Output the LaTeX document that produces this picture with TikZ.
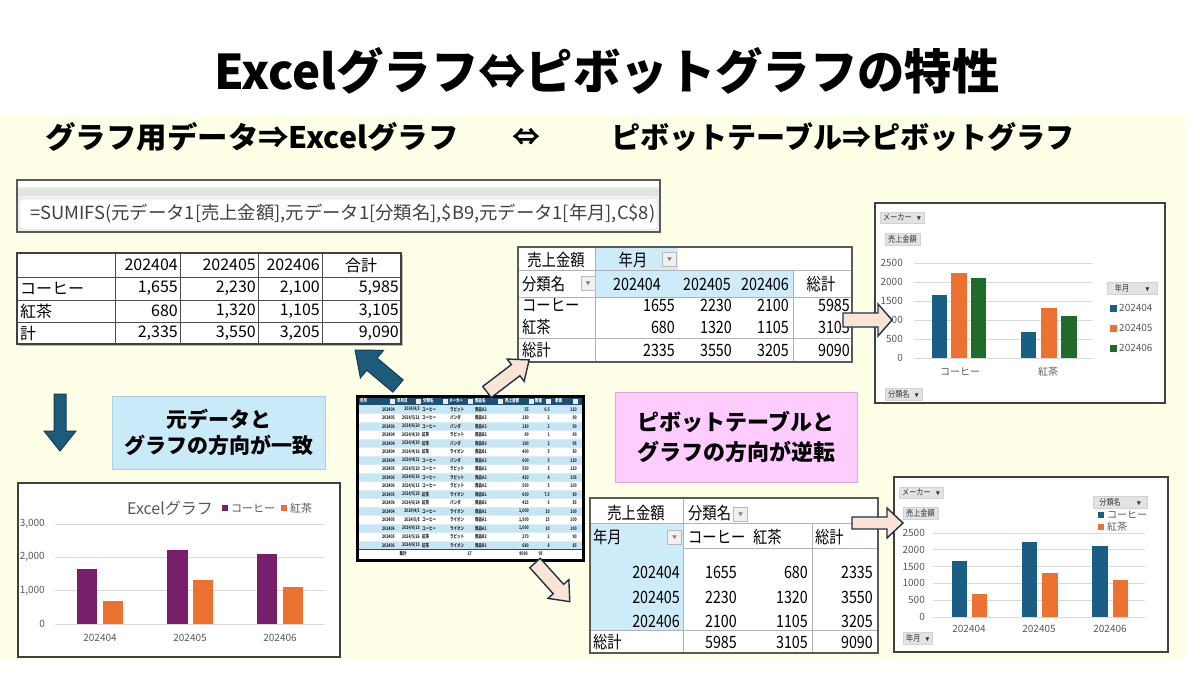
\documentclass[tikz,border=0pt]{standalone}
\usepackage{fontspec}
\setmainfont{Noto Sans CJK JP}
\newfontfamily\condf{Noto Sans CJK JP}[FakeStretch=0.84]
\newfontfamily\tinyf{Noto Sans CJK JP}[FakeStretch=0.7]
\usepackage{graphicx}
\usetikzlibrary{calc}
\newcommand\myfs[1]{\fontsize{#1}{#1}\selectfont}
\definecolor{bgy}{HTML}{FFFFE8}
\definecolor{pvblue}{HTML}{CDEBF8}
\definecolor{boxblue}{HTML}{C9EAF8}
\definecolor{boxbedge}{HTML}{A9CFE0}
\definecolor{boxpink}{HTML}{FFCCFF}
\definecolor{boxpedge}{HTML}{D9A9D9}
\definecolor{peach}{HTML}{FBE3D6}
\definecolor{peachedge}{HTML}{1E3446}
\definecolor{darr}{HTML}{1D5B7B}
\definecolor{darredge}{HTML}{123C52}
\definecolor{cblue}{HTML}{1A5E84}
\definecolor{corange}{HTML}{EC7232}
\definecolor{cgreen}{HTML}{1E6B2B}
\definecolor{cpurple}{HTML}{771F6B}
\definecolor{tblhead}{HTML}{1D4F73}
\definecolor{stripe}{HTML}{C7E6F5}
\definecolor{gridc}{HTML}{D9D9D9}
\definecolor{axtext}{HTML}{595959}
\definecolor{fgray}{HTML}{404040}
% block arrow: x, y, angle, length, shaft half, head half, head length, style
\newcommand\blkarrow[8]{\begin{scope}[shift={(#1,#2)},rotate=#3]
\draw[#8] (0,-#5)--({#4-#7},-#5)--({#4-#7},-#6)--(#4,0)--({#4-#7},#6)--({#4-#7},#5)--(0,#5)--cycle;
\end{scope}}
\newcommand\cbar[6]{\fill[#6] (#1,#3) rectangle (#2,{#3-#5*#4});}
\newcommand\drow[9]{%
 \pgfmathsetmacro\myrowy{405+(#1-0.5)*8.5}%
 \node[dt,anchor=east] (r#1a) at (395,\myrowy) {#2};
 \node[dt,anchor=east] (r#1b) at (420,\myrowy) {#3};
 \node[dt,anchor=west] (r#1c) at (422,\myrowy) {#4};
 \node[dt,anchor=west] (r#1d) at (450,\myrowy) {#5};
 \node[dt,anchor=west] (r#1e) at (475,\myrowy) {#6};
 \node[dt,anchor=east] (r#1f) at (529,\myrowy) {#7};
 \node[dt,anchor=east] (r#1g) at (550,\myrowy) {#8};
 \node[dt,anchor=east] (r#1h) at (577,\myrowy) {#9};
}
\begin{document}
\begin{tikzpicture}[x=1pt,y=-1pt,
  every node/.style={inner sep=0pt},
  lt/.style={font=\myfs{16}, text=black},
  pt/.style={font=\condf\myfs{17}, text=black},
  dt/.style={font=\tinyf\myfs{5}\bfseries, text=black!85},
  dh/.style={font=\tinyf\myfs{5}\bfseries, text=white, anchor=west},
  ddbox/.style={draw=gray!55, fill=gray!12, minimum width=14, minimum height=14, font=\myfs{5}, text=gray},
  btn/.style={fill=gray!22, draw=gray!35, font=\condf\myfs{8.5}, text=black!80, inner xsep=3pt, inner ysep=2pt},
  ax/.style={font=\myfs{10}, text=axtext},
  darrow/.style={fill=darr, draw=darredge, line width=1pt, line join=miter},
  parrow/.style={fill=peach, draw=peachedge, line width=1.4pt, line join=miter},
  chartframe/.style={draw=black!75, line width=1.3pt, fill=white}
]
\useasboundingbox (0,0) rectangle (1200,675);
\fill[white] (0,0) rectangle (1200,675);
\fill[bgy] (0,115) rectangle (1185,660);

% ---------- titles ----------
\node (title) at (607,71) {\resizebox*{785pt}{47pt}{\bfseries Excelグラフ⇔ピボットグラフの特性}};
\node (subL) at (252,137) {\resizebox*{413pt}{29pt}{\bfseries グラフ用データ⇒Excelグラフ}};
\node (subM) at (526,137) {\resizebox*{28pt}{17pt}{\bfseries ⇔}};
\node (subR) at (843,137) {\resizebox*{463pt}{29pt}{\bfseries ピボットテーブル⇒ピボットグラフ}};

% ---------- formula bar ----------
\fill[gray!12] (17,180) rectangle (660,232);
\fill[white] (17,180) rectangle (660,187);
\fill[gray!22] (17,188) rectangle (660,196);
\draw[gray!40, fill=white, rounded corners=2pt] (20,199) rectangle (657,229);
\draw[black!65, line width=1.2pt] (17,180) rectangle (660,232);
\node[anchor=west, text=fgray] (ftext) at (30,214) {\resizebox*{625pt}{19pt}{=SUMIFS(元データ1[売上金額],元データ1[分類名],\$B9,元データ1[年月],C\$8)}};

% ---------- left table ----------
\fill[gray!55] (19,255) rectangle (403,346);
\fill[white] (17,253) rectangle (401,344);
\foreach \x in {115,180,258,322} \draw[black!70, line width=0.8pt] (\x,253)--(\x,344);
\foreach \y in {277,300,322} \draw[black!70, line width=0.8pt] (17,\y)--(401,\y);
\draw[black!75, line width=1.4pt] (17,253) rectangle (401,344);
\node[lt,anchor=east] (lh1) at (178,265) {202404};
\node[lt,anchor=east] (lh2) at (256,265) {202405};
\node[lt,anchor=east] (lh3) at (320,265) {202406};
\node[lt] (lh4) at (361,265) {合計};
\node[lt,anchor=west] (lr1) at (20,288.5) {コーヒー};
\node[lt,anchor=east] (l11) at (178,288.5) {1,655};
\node[lt,anchor=east] (l12) at (256,288.5) {2,230};
\node[lt,anchor=east] (l13) at (320,288.5) {2,100};
\node[lt,anchor=east] (l14) at (399,288.5) {5,985};
\node[lt,anchor=west] (lr2) at (20,311) {紅茶};
\node[lt,anchor=east] (l21) at (178,311) {680};
\node[lt,anchor=east] (l22) at (256,311) {1,320};
\node[lt,anchor=east] (l23) at (320,311) {1,105};
\node[lt,anchor=east] (l24) at (399,311) {3,105};
\node[lt,anchor=west] (lr3) at (20,333) {計};
\node[lt,anchor=east] (l31) at (178,333) {2,335};
\node[lt,anchor=east] (l32) at (256,333) {3,550};
\node[lt,anchor=east] (l33) at (320,333) {3,205};
\node[lt,anchor=east] (l34) at (399,333) {9,090};

% ---------- top pivot table ----------
\fill[white] (518,247) rectangle (852,362);
\fill[pvblue] (595,247) rectangle (678,270);
\fill[pvblue] (595,270) rectangle (793,297);
\draw[gray!60] (518,270)--(852,270) (518,297)--(852,297) (518,338)--(852,338) (595,247)--(595,362) (793,270)--(793,362);
\draw[black!65, line width=1.2pt] (518,247) rectangle (852,362);
\node[ddbox] (pdd1) at (669.5,259.5) {▼};
\node[ddbox] (pdd2) at (588,283.5) {▼};
\node[pt] (p11) at (556,260) {売上金額};
\node[pt] (p12) at (633,260) {年月};
\node[pt,anchor=west] (p21) at (522,284) {分類名};
\node[pt] (p22) at (637,284) {202404};
\node[pt] (p23) at (707,284) {202405};
\node[pt] (p24) at (765,284) {202406};
\node[pt] (p25) at (821,284) {総計};
\node[pt,anchor=west] (p31) at (522,305) {コーヒー};
\node[pt,anchor=east] (p32) at (675,305) {1655};
\node[pt,anchor=east] (p33) at (732,305) {2230};
\node[pt,anchor=east] (p34) at (789,305) {2100};
\node[pt,anchor=east] (p35) at (850,305) {5985};
\node[pt,anchor=west] (p41) at (522,327) {紅茶};
\node[pt,anchor=east] (p42) at (675,327) {680};
\node[pt,anchor=east] (p43) at (732,327) {1320};
\node[pt,anchor=east] (p44) at (789,327) {1105};
\node[pt,anchor=east] (p45) at (850,327) {3105};
\node[pt,anchor=west] (p51) at (522,350) {総計};
\node[pt,anchor=east] (p52) at (675,350) {2335};
\node[pt,anchor=east] (p53) at (732,350) {3550};
\node[pt,anchor=east] (p54) at (789,350) {3205};
\node[pt,anchor=east] (p55) at (850,350) {9090};

% ---------- top pivot chart ----------
\draw[chartframe] (875,203) rectangle (1165,403);
\foreach \v in {0,500,...,2500} \draw[gridc, line width=0.8pt] (914,{358-\v*0.038})--(1093,{358-\v*0.038});
\foreach \v [count=\k] in {0,500,1000,1500,2000,2500} \node[ax,anchor=east] (tya\k) at (903,{358-\v*0.038}) {\v};
\cbar{932}{947}{358}{0.038}{1655}{cblue}
\cbar{951}{967}{358}{0.038}{2230}{corange}
\cbar{971}{986}{358}{0.038}{2100}{cgreen}
\cbar{1021}{1036}{358}{0.038}{680}{cblue}
\cbar{1041}{1057}{358}{0.038}{1320}{corange}
\cbar{1061}{1077}{358}{0.038}{1105}{cgreen}
\node[ax] (tc1) at (960,372) {コーヒー};
\node[ax] (tc2) at (1048,372) {紅茶};
\node[btn,anchor=north west] (tb1) at (880,212) {メーカー\hspace{5pt}{\myfs{5}▼}};
\node[btn,anchor=north west] (tb2) at (885,233) {売上金額};
\node[btn,anchor=north west] (tb3) at (885,388) {分類名\hspace{5pt}{\myfs{5}▼}};
\node[btn,anchor=north west, minimum width=50] (tb4) at (1107,282) {年月\hspace{16pt}{\myfs{5}▼}};
\foreach \c/\t/\yy [count=\k] in {cblue/202404/308,corange/202405/328,cgreen/202406/348}{
  \fill[\c] (1110,\yy-3.5) rectangle (1117,\yy+3.5);
  \node[ax,anchor=west] (tl\k) at (1119,\yy) {\t};
}

% ---------- bottom-left Excel chart ----------
\draw[chartframe] (18,483) rectangle (340,657);
\foreach \v in {0,1000,2000,3000} \draw[gridc, line width=0.8pt] (55,{624-\v*0.03333})--(325,{624-\v*0.03333});
\node[ax,anchor=east] (ey0) at (45,624) {0};
\node[ax,anchor=east] (ey1) at (45,590.7) {1,000};
\node[ax,anchor=east] (ey2) at (45,557.3) {2,000};
\node[ax,anchor=east] (ey3) at (45,524) {3,000};
\cbar{77}{97}{624}{0.03333}{1655}{cpurple}
\cbar{103}{123}{624}{0.03333}{680}{corange}
\cbar{167}{188}{624}{0.03333}{2230}{cpurple}
\cbar{193}{213}{624}{0.03333}{1320}{corange}
\cbar{257}{277}{624}{0.03333}{2100}{cpurple}
\cbar{283}{303}{624}{0.03333}{1105}{corange}
\node[ax] (ex1) at (100,638) {202404};
\node[ax] (ex2) at (190,638) {202405};
\node[ax] (ex3) at (280,638) {202406};
\node[font=\myfs{16}, text=axtext] (etitle) at (170,508) {Excelグラフ};
\fill[cpurple] (222,505) rectangle (228,511);
\node[font=\myfs{11}, text=axtext, anchor=west] (el1) at (231,508) {コーヒー};
\fill[corange] (281,505) rectangle (287,511);
\node[font=\myfs{11}, text=axtext, anchor=west] (el2) at (290,508) {紅茶};

% ---------- centre data table ----------
\fill[white] (357,396) rectangle (583,560);
\fill[tblhead] (357,396) rectangle (583,405);
\foreach \i in {1,3,...,17} \fill[stripe] (358,{405+(\i-1)*8.5}) rectangle (582,{405+\i*8.5});
\foreach \i in {1,...,17} \draw[stripe!70!white, line width=0.3pt] (358,{405+\i*8.5})--(582,{405+\i*8.5});
\node[dh] (h1) at (360,400.5) {年月};
\node[dh] (h2) at (397,400.5) {年月日};
\node[dh] (h3) at (423,400.5) {分類名};
\node[dh] (h4) at (449,400.5) {メーカー};
\node[dh] (h5) at (475,400.5) {商品名};
\node[dh] (h6) at (505,400.5) {売上金額};
\node[dh] (h7) at (535,400.5) {数量};
\node[dh] (h8) at (555,400.5) {単価};
\foreach \x in {390,416,443,468,498,529,546,573} \fill[gray!15] (\x,398.5) rectangle (\x+5,403.5);
\drow{1}{202404}{2024/4/3}{コーヒー}{ラビット}{商品A2}{55}{0.5}{110}
\drow{2}{202405}{2024/5/21}{コーヒー}{パンダ}{商品A3}{180}{2}{90}
\drow{3}{202406}{2024/6/20}{コーヒー}{パンダ}{商品A3}{180}{2}{90}
\drow{4}{202404}{2024/4/30}{紅茶}{ラビット}{商品B2}{90}{1}{90}
\drow{5}{202404}{2024/4/30}{紅茶}{パンダ}{商品B3}{190}{2}{95}
\drow{6}{202404}{2024/4/16}{紅茶}{ライオン}{商品B1}{400}{5}{80}
\drow{7}{202404}{2024/4/21}{コーヒー}{パンダ}{商品A3}{600}{5}{120}
\drow{8}{202405}{2024/5/20}{コーヒー}{ラビット}{商品A2}{550}{5}{110}
\drow{9}{202406}{2024/6/16}{コーヒー}{ラビット}{商品A2}{420}{4}{105}
\drow{10}{202406}{2024/6/15}{コーヒー}{ラビット}{商品A2}{500}{5}{100}
\drow{11}{202405}{2024/5/25}{紅茶}{ライオン}{商品B1}{600}{7.5}{80}
\drow{12}{202406}{2024/6/24}{紅茶}{パンダ}{商品B3}{425}{5}{85}
\drow{13}{202404}{2024/4/1}{コーヒー}{ライオン}{商品A1}{1,000}{10}{100}
\drow{14}{202405}{2024/5/8}{コーヒー}{ライオン}{商品A1}{1,500}{15}{100}
\drow{15}{202406}{2024/6/18}{コーヒー}{ライオン}{商品A1}{1,000}{10}{100}
\drow{16}{202405}{2024/5/26}{紅茶}{ラビット}{商品B2}{270}{3}{90}
\drow{17}{202406}{2024/6/15}{紅茶}{ライオン}{商品B1}{680}{8}{85}
\draw[tblhead, line width=0.6pt] (358,549.5)--(582,549.5);
\node[dt] (tot1) at (403,554) {集計};
\node[dt,anchor=east] (tot2) at (472,554) {17};
\node[dt,anchor=east] (tot3) at (528,554) {9090};
\node[dt,anchor=east] (tot4) at (543,554) {95};
\draw[black, line width=3pt] (357,396) rectangle (583,560);

% ---------- text boxes ----------
\node[draw=boxbedge, fill=boxblue, minimum width=213, minimum height=73, anchor=north west,
      font=\fontsize{21}{26}\selectfont\bfseries, align=center] (boxA) at (112,396) {元データと\\グラフの方向が一致};
\node[draw=boxpedge, fill=boxpink, minimum width=242, minimum height=90, anchor=north west,
      font=\fontsize{22}{30}\selectfont\bfseries, align=center] (boxB) at (615,392) {ピボットテーブルと\\グラフの方向が逆転};

% ---------- bottom pivot table ----------
\fill[white] (590,498) rectangle (878,653);
\fill[pvblue] (590,523) rectangle (683,630);
\draw[gray!60] (590,523)--(878,523) (683,548)--(878,548) (590,630)--(878,630) (683,498)--(683,653) (812,523)--(812,653);
\draw[black!65, line width=1.2pt] (590,498) rectangle (878,653);
\node[ddbox] (bdd1) at (740.5,514.5) {▼};
\node[ddbox] (bdd2) at (674.5,537.5) {▼};
\node[pt] (q11) at (636,513) {売上金額};
\node[pt,anchor=west] (q12) at (688,513) {分類名};
\node[pt,anchor=west] (q21) at (593,537) {年月};
\node[pt,anchor=west] (q22) at (688,537) {コーヒー};
\node[pt,anchor=west] (q23) at (753,537) {紅茶};
\node[pt,anchor=west] (q24) at (815,537) {総計};
\foreach \a/\b/\c/\d/\yy [count=\k] in {202404/1655/680/2335/572,202405/2230/1320/3550/597,202406/2100/1105/3205/621}{
  \node[pt,anchor=east] (qa\k) at (680,\yy) {\a};
  \node[pt,anchor=east] (qb\k) at (737,\yy) {\b};
  \node[pt,anchor=east] (qc\k) at (808,\yy) {\c};
  \node[pt,anchor=east] (qd\k) at (873,\yy) {\d};
}
\node[pt,anchor=west] (q51) at (593,642) {総計};
\node[pt,anchor=east] (q52) at (737,642) {5985};
\node[pt,anchor=east] (q53) at (808,642) {3105};
\node[pt,anchor=east] (q54) at (873,642) {9090};

% ---------- bottom pivot chart ----------
\draw[chartframe] (894,477) rectangle (1168,652);
\foreach \v in {0,500,...,2500} \draw[gridc, line width=0.8pt] (933,{617-\v*0.0336})--(1145,{617-\v*0.0336});
\foreach \v [count=\k] in {0,500,1000,1500,2000,2500} \node[ax,anchor=east] (bya\k) at (925,{617-\v*0.0336}) {\v};
\cbar{952}{967}{617}{0.0336}{1655}{cblue}
\cbar{972}{987}{617}{0.0336}{680}{corange}
\cbar{1022}{1037}{617}{0.0336}{2230}{cblue}
\cbar{1042}{1058}{617}{0.0336}{1320}{corange}
\cbar{1092}{1108}{617}{0.0336}{2100}{cblue}
\cbar{1113}{1128}{617}{0.0336}{1105}{corange}
\node[ax] (bc1) at (969,629) {202404};
\node[ax] (bc2) at (1039,629) {202405};
\node[ax] (bc3) at (1110,629) {202406};
\node[btn,anchor=north west] (bb1) at (899,487) {メーカー\hspace{5pt}{\myfs{5}▼}};
\node[btn,anchor=north west] (bb2) at (903,507) {売上金額};
\node[btn,anchor=north west, minimum width=54] (bb3) at (1093,496) {分類名\hspace{16pt}{\myfs{5}▼}};
\node[btn,anchor=north west] (bb4) at (903,632) {年月\hspace{5pt}{\myfs{5}▼}};
\fill[cblue] (1098,512) rectangle (1104,518);
\node[ax,anchor=west] (bl1) at (1107,515) {コーヒー};
\fill[corange] (1098,524) rectangle (1104,530);
\node[ax,anchor=west] (bl2) at (1107,527) {紅茶};

% ---------- block arrows ----------
\blkarrow{843}{320}{0}{49}{7}{16}{14}{parrow}
\blkarrow{852}{523}{0}{51}{6}{15}{16}{parrow}
\blkarrow{60}{394}{-90}{57}{6}{16}{20}{darrow}
\blkarrow{398}{386}{140}{56}{8}{18}{22}{darrow}
\blkarrow{487}{392}{37.3}{53}{7}{14}{17}{parrow}
\blkarrow{535}{563}{-48}{52}{7}{14}{17}{parrow}
\end{tikzpicture}
\end{document}
